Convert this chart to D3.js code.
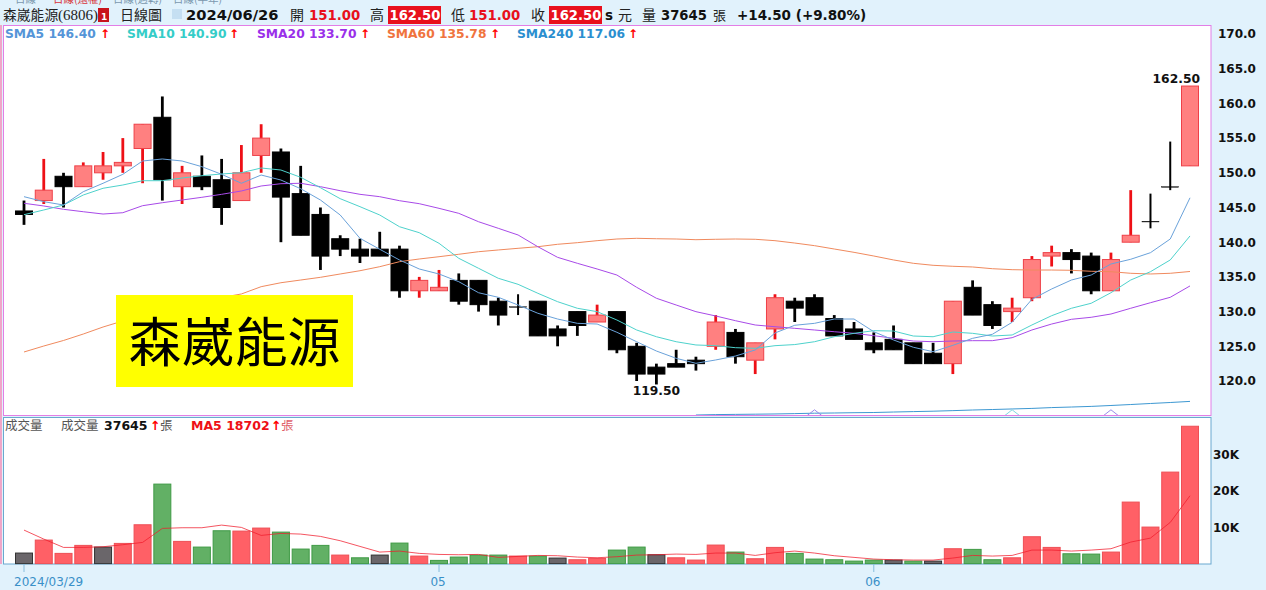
<!DOCTYPE html>
<html>
<head>
<meta charset="utf-8">
<script src="https://cdn.jsdelivr.net/npm/d3@7"></script>
<style>
  html, body { margin: 0; padding: 0; background: #e1f2fc; overflow: hidden; }
  text { font-family: "DejaVu Sans", sans-serif; }
  .cjk { font-family: "Noto Sans CJK TC", sans-serif; font-weight: 400; }
</style>
</head>
<body>
<div id="chart"></div>
<script>
const opens = [144.5,146,149.5,148,150,151,153.5,158,148,149.5,
  149,146,152.5,153,147,144,140.5,139,139,139,
  133,133,134.5,134.5,131.5,130.7,131.5,127.5,130,128.5,
  130,125,122,122.5,123,125,127,123,127.5,131.5,
  132,129,127.5,125.5,126,125.5,124,122.5,133.5,131,
  130,132,138,138.5,138,133,140,143,148,151];
const highs = [146,152,150,151.5,153,155,157,161,151,152.5,
  152,154,157,153.5,151,145,141,140.5,141.5,139.5,
  135,136,135.5,134.5,132,132.5,131.5,128,130,131,
  130,125.5,122.5,124.5,123.5,129.5,127.5,125.5,132.5,132,
  132.5,129.5,128.5,127,128,125.5,125.5,131.5,134.5,131.5,
  132,138,139.5,139,138.5,138.5,147.5,147,154.5,162.5];
const lows = [142.5,145.5,145,148,149,150,148.5,146,145.5,147.5,
  142.5,146,150,140,141,136,138,137,138,132,
  132,133,131,130,128,129.5,126.5,125,126.5,128.5,
  124,120,119.5,122,121.5,124.5,122.5,121,126,128.5,
  129.5,126.5,126,124,124.5,122.5,122.5,121,129.5,127.5,
  128.5,131.5,136.5,135.5,132.5,133,140,142,147.5,151];
const closes = [144,147.5,148,151,151,151.5,157,149,150,148,
  145,150,155,146.5,141,138,139,138,138,133,
  134.5,133.5,131.5,131,129.5,130.7,126.5,126.5,128,129.5,
  124.5,121,121,122,122.5,128.5,123.5,125.5,132,130.5,
  129.5,126.5,126,124.5,124.5,122.5,122.5,131.5,129.5,128,
  130.5,137.5,138.5,137.5,133,137.5,141,143,148,162.5];

const sma5 = [146.56,145.84,145.36,147.28,148.49,149.78,151.70,151.99,151.70,150.88,
  149.78,148.49,149.68,148.96,147.71,146.08,143.92,140.56,138.98,137.44,
  136.14,135.42,134.31,132.72,132.06,130.95,129.76,128.93,128.31,128.21,
  127.02,125.66,124.32,123.27,122.55,123.03,123.60,124.47,126.92,128.03,
  128.31,128.93,128.93,127.10,125.91,124.86,124.22,125.14,126.15,126.73,
  128.46,131.77,133.26,134.55,135.27,136.86,137.54,138.49,140.46,146.40];
const sma10 = [143.96,144.64,145.36,146.80,147.77,148.24,148.86,148.86,149.25,149.58,
  149.83,150.01,150.69,150.40,149.35,147.85,146.27,145.12,143.92,142.23,
  141.37,139.84,137.68,136.24,134.80,133.93,132.64,131.43,130.48,129.99,
  128.79,127.35,126.38,125.66,125.19,125.09,124.80,124.71,125.09,125.25,
  125.66,126.38,126.87,127.25,127.20,126.48,126.38,127.06,126.87,126.48,
  126.63,128.07,129.41,130.48,131.20,132.72,134.55,135.75,137.44,140.90];
const sma20 = [145.61,145.22,144.74,144.39,144.06,144.25,145.26,145.69,146.08,146.47,
  146.90,147.38,148.10,148.43,148.49,148.00,147.42,146.90,146.56,145.98,
  145.55,144.88,144.16,142.95,142.00,141.04,139.35,137.82,136.96,136.14,
  135.27,133.50,131.92,130.95,129.99,129.37,128.69,128.07,127.82,127.59,
  127.35,127.10,126.87,126.53,126.15,125.76,125.66,125.76,125.81,125.81,
  126.24,127.35,128.21,128.89,129.18,129.65,130.48,131.28,132.06,133.70];
const sma60 = [124.18,125.04,125.84,126.77,127.78,128.65,129.51,130.23,130.95,131.57,
  132.03,132.54,133.59,134.16,134.55,134.94,135.42,135.89,136.47,137.19,
  137.58,137.91,138.26,138.63,138.88,139.12,139.35,139.70,139.93,140.22,
  140.46,140.56,140.50,140.46,140.36,140.42,140.46,140.42,140.22,139.88,
  139.50,139.02,138.54,138.01,137.44,136.96,136.67,136.53,136.43,136.18,
  136.04,135.99,135.99,135.95,135.81,135.75,135.52,135.42,135.52,135.78];
// only the tail of SMA240 is inside the price window
const sma240Start = 34;
const sma240 = [115.10,115.16,115.19,115.22,115.25,115.30,
  115.36,115.39,115.43,115.46,115.53,115.59,115.65,115.73,115.82,115.89,
  115.97,116.05,116.17,116.25,116.34,116.47,116.61,116.76,116.90,117.06];

const volumes = [3090,6630,3000,5180,4720,5720,10800,21880,6270,4720,
  9170,9080,9900,8800,4180,5180,2540,1800,2540,5810,
  2270,1090,2000,2540,2540,2270,2270,1725,1270,1630,
  3900,4720,2630,1800,1180,5270,3360,1540,4630,3000,
  1450,1270,900,1180,1180,900,900,4270,4090,1270,
  1800,7540,4630,2900,2810,3360,16980,10170,25150,37645];
// 1 up, -1 down, 0 flat on the day
const volDir = [0,1,1,1,0,1,1,-1,1,-1,
  -1,1,1,-1,-1,-1,1,-1,0,-1,
  1,-1,-1,-1,-1,1,-1,0,1,1,
  -1,-1,0,1,1,1,-1,1,1,-1,
  -1,-1,-1,-1,0,-1,0,1,-1,-1,
  1,1,1,-1,-1,1,1,1,1,1];
const volMa5 = [9350,6900,4630,4630,4810,5360,5990,9810,9990,9990,
  10710,10080,7900,8440,8260,7630,6450,4900,3360,3630,
  3000,2720,2630,2720,1910,2180,2450,2360,2000,1820,
  2090,2540,2630,2810,2720,3090,3090,2450,3180,3630,
  3090,2360,1910,1450,1270,1180,1180,1730,2450,2270,
  2450,3900,3900,3630,3900,4270,6080,7170,11440,18702];

const priceTicks = [120,125,130,135,140,145,150,155,160,165,170];
const volTicks = [10000,20000,30000];
const dateTicks = [{ i: 0, label: "2024/03/29" }, { i: 21, label: "05" }, { i: 43, label: "06" }];
const peakIdx = [40, 50, 55];
const peakColors = ["#9a8be8", "#7fd6e0", "#9a8be8"];

const legend = [
  { name: "SMA5", value: "146.40", color: "#5595d8", x: 5, arrow: 100 },
  { name: "SMA10", value: "140.90", color: "#35cdc8", x: 127, arrow: 229 },
  { name: "SMA20", value: "133.70", color: "#9a30ea", x: 257, arrow: 360 },
  { name: "SMA60", value: "135.78", color: "#f0743e", x: 387, arrow: 490 },
  { name: "SMA240", value: "117.06", color: "#2b8fd0", x: 517, arrow: 628 }
];

const width = 1266, height = 590;
const candleW = 18;

const svg = d3.select("#chart").append("svg")
  .attr("width", width)
  .attr("height", height)
  .style("display", "block");

const defs = svg.append("defs");
defs.append("clipPath").attr("id", "priceClip")
  .append("rect").attr("x", 4).attr("y", 25).attr("width", 1207).attr("height", 390);

const x = d3.scaleLinear().domain([0, 59]).range([24, 1190]);
const y = d3.scaleLinear().domain([120, 170]).range([381, 34]);
const yVol = d3.scaleLinear().domain([0, 30000]).range([564.4, 454.3]);

// panels
svg.append("rect").attr("x", 0).attr("y", 25).attr("width", 2).attr("height", 539).attr("fill", "#f0a6c8");
svg.append("rect").attr("x", 3.5).attr("y", 25.5).attr("width", 1207.5).attr("height", 390)
  .attr("fill", "#fff").attr("stroke", "#e27ee6");
svg.append("rect").attr("x", 3.5).attr("y", 417.5).attr("width", 1207.5).attr("height", 146.5)
  .attr("fill", "#fff").attr("stroke", "#6aa8cf");

// cut off tab row at the very top
const tabs = [
  { t: "日線", x: 15, c: "#7a97ad" },
  { t: "日線(還權)", x: 53, c: "#d8353a" },
  { t: "日線(週轉)", x: 113, c: "#7a97ad" },
  { t: "日線(半年)", x: 173, c: "#7a97ad" }
];
svg.append("g").selectAll("text").data(tabs).enter().append("text")
  .attr("class", "cjk")
  .attr("x", d => d.x)
  .attr("y", 3)
  .attr("font-size", 10.5)
  .attr("fill", d => d.c)
  .text(d => d.t);

// header row
const header = svg.append("g");
function headText(s, px, color, bold, size, cjk) {
  const t = header.append("text")
    .attr("x", px)
    .attr("y", 20)
    .attr("fill", color)
    .attr("font-size", size || 14)
    .attr("font-weight", bold ? "bold" : "normal")
    .text(s);
  if (cjk) t.attr("class", "cjk").style("font-weight", "400");
  return t;
}
function headBox(s, px, w) {
  header.append("rect").attr("x", px).attr("y", 6).attr("width", w).attr("height", 18).attr("fill", "#e8101c");
  headText(s, px + 1.5, "#fff", true, 13.2);
}
headText("森崴能源", 3, "#222", false, 13.8, true);
headText("(6806)", 58, "#222", false, 15).style("font-family", "Liberation Serif");
header.append("rect").attr("x", 98).attr("y", 8).attr("width", 11).attr("height", 14).attr("fill", "#c8141c");
headText("1", 101, "#fff", true, 9);
headText("日線圖", 120, "#222", false, 14, true);
header.append("rect").attr("x", 172).attr("y", 9).attr("width", 10).attr("height", 10).attr("fill", "#c5dff2");
headText("2024/06/26", 186, "#111", true, 14.7);
headText("開", 290, "#222", false, 14, true);
headText("151.00", 309, "#e8101c", true, 13.3);
headText("高", 370, "#222", false, 14, true);
headBox("162.50", 388, 53);
headText("低", 451, "#222", false, 14, true);
headText("151.00", 469, "#e8101c", true, 13.3);
headText("收", 531, "#222", false, 14, true);
headBox("162.50", 549, 53);
headText("s", 605, "#111", true, 13.5);
headText("元", 618, "#222", false, 14, true);
headText("量", 642, "#222", false, 14, true);
headText("37645", 661, "#111", true, 13.2);
headText("張", 713, "#222", false, 13, true);
headText("+14.50 (+9.80%)", 737, "#111", true, 13.5);

// SMA legend
const legendG = svg.append("g").attr("font-size", 12.3).attr("font-weight", "bold");
legendG.selectAll("text.name").data(legend).enter().append("text")
  .attr("class", "name")
  .attr("x", d => d.x)
  .attr("y", 38)
  .attr("fill", d => d.color)
  .text(d => d.name + " " + d.value);
legendG.selectAll("text.arrow").data(legend).enter().append("text")
  .attr("class", "arrow")
  .attr("x", d => d.arrow)
  .attr("y", 38)
  .attr("fill", "#f00")
  .attr("font-size", 12)
  .text("\u2191");

// candles
const idx = d3.range(opens.length);
const isUp = i => closes[i] > opens[i];
const priceG = svg.append("g").attr("clip-path", "url(#priceClip)");

priceG.append("g").selectAll("line").data(idx).enter().append("line")
  .attr("x1", i => x(i))
  .attr("x2", i => x(i))
  .attr("y1", i => y(highs[i]))
  .attr("y2", i => y(lows[i]))
  .attr("stroke", i => isUp(i) ? "#ee1016" : "#000")
  .attr("stroke-width", i => opens[i] === closes[i] ? 2 : 2.8);

// a flat open/close still needs its one pixel bar
priceG.append("g").selectAll("rect").data(idx).enter().append("rect")
  .attr("x", i => x(i) - candleW / 2 + 0.5)
  .attr("width", candleW - 1)
  .attr("y", i => y(Math.max(opens[i], closes[i])))
  .attr("height", i => Math.max(0.6, Math.abs(y(opens[i]) - y(closes[i]))))
  .attr("fill", i => isUp(i) ? "#ff8080" : "#000")
  .attr("stroke", i => isUp(i) ? "#ee4048" : "#000")
  .attr("stroke-width", i => opens[i] === closes[i] ? 0.4 : 1);

// moving averages
const priceLine = d3.line().x(d => x(d.i)).y(d => y(d.v));
const toPts = (arr, start) => arr.map((v, k) => ({ i: k + start, v: v }));
const smaSeries = [
  { pts: toPts(sma60, 0), color: "#f08a5e" },
  { pts: toPts(sma240, sma240Start), color: "#3d98d2" },
  { pts: toPts(sma20, 0), color: "#a84ae8" },
  { pts: toPts(sma10, 0), color: "#4ed2cc" },
  { pts: toPts(sma5, 0), color: "#6aa2da" }
];
priceG.append("g").selectAll("path").data(smaSeries).enter().append("path")
  .attr("d", d => priceLine(d.pts))
  .attr("fill", "none")
  .attr("stroke", d => d.color)
  .attr("stroke-width", 1);

// small peaks poking up from the bottom edge of the price panel
priceG.append("g").selectAll("path.peak").data(peakIdx).enter().append("path")
  .attr("class", "peak")
  .attr("d", i => d3.line()([[x(i) - 8, y(114.95)], [x(i), y(115.85)], [x(i) + 8, y(114.95)]]))
  .attr("fill", "none")
  .attr("stroke", (i, k) => peakColors[k])
  .attr("stroke-width", 1);

// high / low labels
const hiI = d3.maxIndex(highs), loI = d3.minIndex(lows);
svg.append("text")
  .attr("x", x(hiI) + 10)
  .attr("y", y(highs[hiI]) - 3)
  .attr("text-anchor", "end")
  .attr("font-size", 12.3)
  .attr("font-weight", "bold")
  .attr("fill", "#111")
  .text(d3.format(".2f")(highs[hiI]));
svg.append("text")
  .attr("x", x(loI))
  .attr("y", y(lows[loI]) + 11)
  .attr("text-anchor", "middle")
  .attr("font-size", 12.3)
  .attr("font-weight", "bold")
  .attr("fill", "#111")
  .text(d3.format(".2f")(lows[loI]));

// name box
svg.append("rect").attr("x", 116).attr("y", 295).attr("width", 237).attr("height", 92).attr("fill", "#ffff00");
svg.append("text")
  .attr("class", "cjk")
  .attr("x", 234.5)
  .attr("y", 362)
  .attr("text-anchor", "middle")
  .attr("font-size", 53)
  .attr("fill", "#000")
  .text("森崴能源");

// price axis
const priceAxis = svg.append("g")
  .attr("transform", "translate(1212,0)")
  .call(d3.axisRight(y).tickValues(priceTicks).tickFormat(d3.format(".1f")).tickSize(0).tickPadding(6));
priceAxis.select(".domain").remove();
priceAxis.selectAll("text").attr("font-size", 12).attr("font-weight", "bold")
  .attr("fill", "#111").style("font-family", "DejaVu Sans");

// volume bars
const volFill = { "1": "#ff6066", "-1": "#62b065", "0": "#6a666a" };
const volStroke = { "1": "#ee4f55", "-1": "#3f9a45", "0": "#333" };
svg.append("g").selectAll("rect").data(idx).enter().append("rect")
  .attr("x", i => x(i) - candleW / 2 + 0.5)
  .attr("width", candleW - 1)
  .attr("y", i => yVol(volumes[i]))
  .attr("height", i => Math.max(0, yVol(0) - 0.8 - yVol(volumes[i])))
  .attr("fill", i => volFill[volDir[i]])
  .attr("stroke", i => volStroke[volDir[i]])
  .attr("stroke-width", 1);

svg.append("path")
  .attr("d", d3.line().x((d, i) => x(i)).y(d => yVol(d))(volMa5))
  .attr("fill", "none")
  .attr("stroke", "#f01c2c")
  .attr("stroke-opacity", 0.75)
  .attr("stroke-width", 1);

// volume axis
const volAxis = svg.append("g")
  .attr("transform", "translate(1212,0)")
  .call(d3.axisRight(yVol).tickValues(volTicks).tickFormat(d => (d / 1000) + "K").tickSize(0).tickPadding(1));
volAxis.select(".domain").remove();
volAxis.selectAll("text").attr("font-size", 12).attr("font-weight", "bold")
  .attr("fill", "#111").style("font-family", "DejaVu Sans");

// volume legend
const volLeg = svg.append("g");
function volText(s, px, color, bold, cjk) {
  const t = volLeg.append("text").attr("x", px).attr("y", 430)
    .attr("fill", color)
    .attr("font-size", 12.5)
    .attr("font-weight", bold ? "bold" : "normal")
    .text(s);
  if (cjk) t.attr("class", "cjk");
}
volText("成交量", 5, "#555", false, true);
volText("成交量", 61, "#555", false, true);
volText("37645", 104, "#111", true);
volText("\u2191", 150, "#f00", true);
volText("張", 160, "#555", false, true);
volText("MA5 18702", 191, "#ee1016", true);
volText("\u2191", 271, "#f00", true);
volText("張", 281, "#e06068", false, true);

// date axis
const dateG = svg.append("g").selectAll("g").data(dateTicks).enter().append("g");
dateG.append("line")
  .attr("x1", d => x(d.i))
  .attr("x2", d => x(d.i))
  .attr("y1", 564)
  .attr("y2", 572)
  .attr("stroke", "#86bcdc");
dateG.append("text")
  .attr("x", d => d.i === 0 ? x(d.i) - 10 : x(d.i) - 1)
  .attr("y", 586)
  .attr("text-anchor", d => d.i === 0 ? "start" : "middle")
  .attr("font-size", 12)
  .attr("fill", "#3a90c8")
  .text(d => d.label);
</script>
</body>
</html>
